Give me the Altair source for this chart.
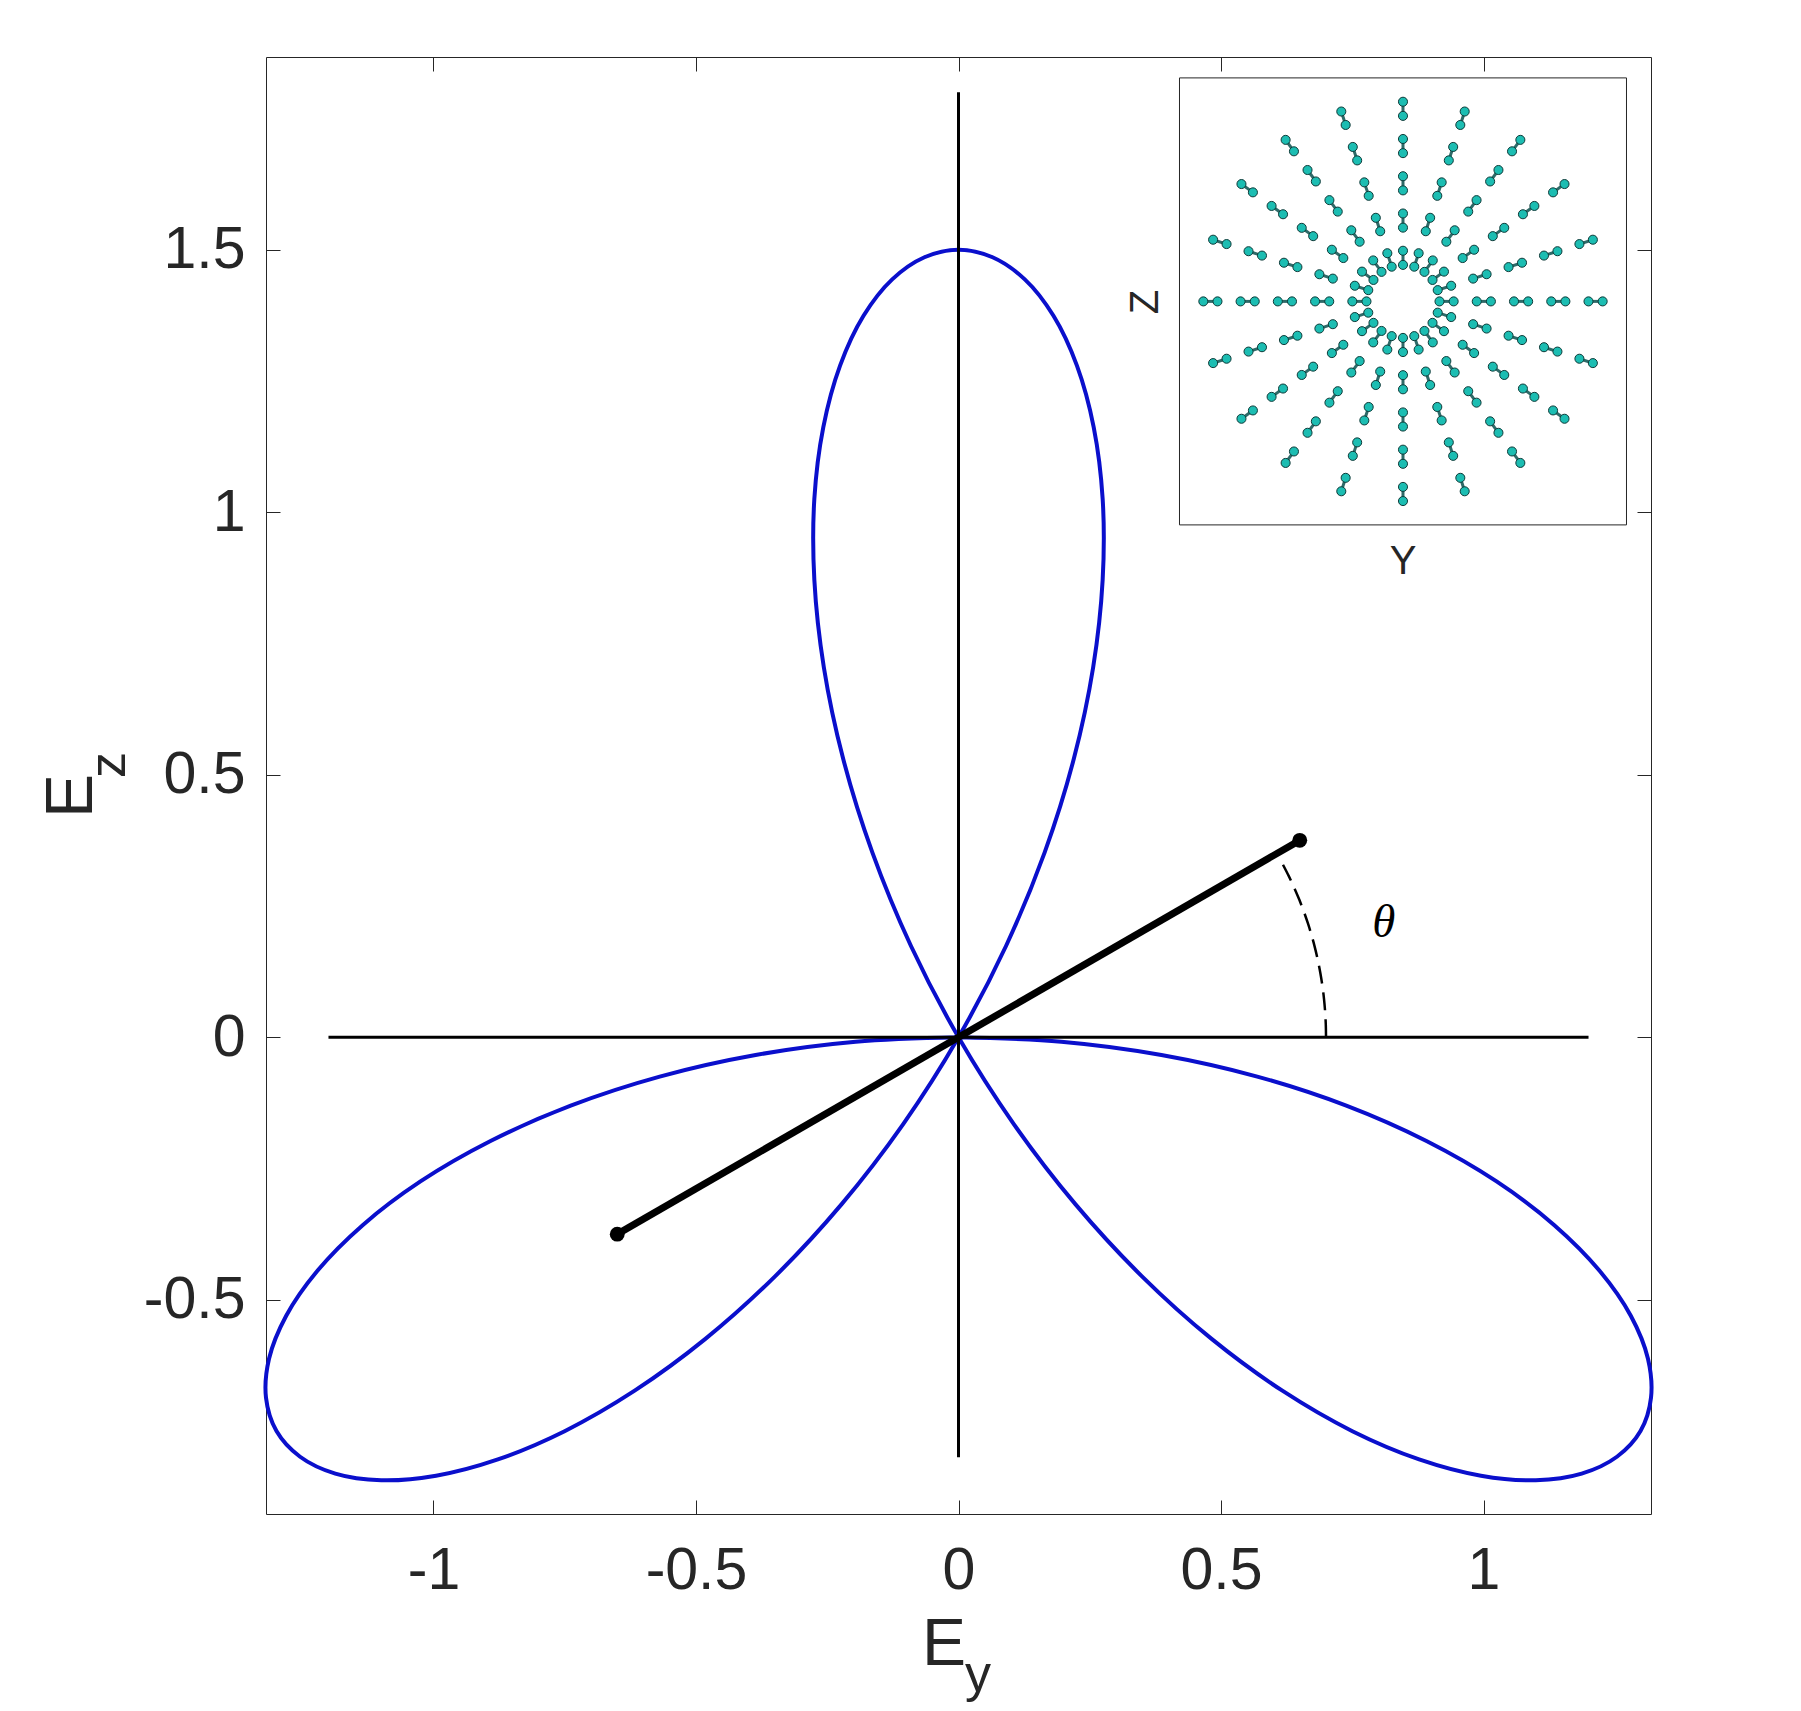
import altair as alt
import numpy as np
import pandas as pd

# ---------------- data ----------------
# three-lobed pattern: polar angle (deg) and signed radius
curve_theta = [0.0, 2.5, 5.0, 7.5, 10.0, 12.5, 15.0, 17.5, 20.0, 22.5, 25.0, 27.5, 30.0,
               32.5, 35.0, 37.5, 40.0, 42.5, 45.0, 47.5, 50.0, 52.5, 55.0, 57.5, 60.0,
               62.5, 65.0, 67.5, 70.0, 72.5, 75.0, 77.5, 80.0, 82.5, 85.0, 87.5, 90.0,
               92.5, 95.0, 97.5, 100.0, 102.5, 105.0, 107.5, 110.0, 112.5, 115.0, 117.5, 120.0,
               122.5, 125.0, 127.5, 130.0, 132.5, 135.0, 137.5, 140.0, 142.5, 145.0, 147.5, 150.0,
               152.5, 155.0, 157.5, 160.0, 162.5, 165.0, 167.5, 170.0, 172.5, 175.0, 177.5, 180.0]
curve_r = [0.0, -0.196, -0.388, -0.574, -0.75, -0.913, -1.061, -1.19, -1.299, -1.386, -1.449, -1.487, -1.5,
           -1.487, -1.449, -1.386, -1.299, -1.19, -1.061, -0.913, -0.75, -0.574, -0.388, -0.196, 0.0,
           0.196, 0.388, 0.574, 0.75, 0.913, 1.061, 1.19, 1.299, 1.386, 1.449, 1.487, 1.5,
           1.487, 1.449, 1.386, 1.299, 1.19, 1.061, 0.913, 0.75, 0.574, 0.388, 0.196, 0.0,
           -0.196, -0.388, -0.574, -0.75, -0.913, -1.061, -1.19, -1.299, -1.386, -1.449, -1.487, -1.5,
           -1.487, -1.449, -1.386, -1.299, -1.19, -1.061, -0.913, -0.75, -0.574, -0.388, -0.196, 0.0]

# reference axes lines
axis_line_x1 = [0.0, -1.2]
axis_line_x2 = [0.0, 1.2]
axis_line_y1 = [-0.8, 0.0]
axis_line_y2 = [1.8, 0.0]

# field direction segment
seg_x = [-0.65, 0.65]
seg_y = [-0.375, 0.375]

# dashed angle arc
arc_theta = [0, 2, 4, 6, 8, 10, 12, 14, 16, 18, 20, 22, 24, 26, 28]
arc_radius = 0.7

theta_label_x = [0.81]
theta_label_y = [0.217]

x_ticks = [-1, -0.5, 0, 0.5, 1]
y_ticks = [-0.5, 0, 0.5, 1, 1.5]

# inset: dumbbells along radial rays
ray_deg = [0, 18, 36, 54, 72, 90, 108, 126, 144, 162, 180, 198, 216, 234, 252, 270, 288, 306, 324, 342]
ring_center = [1.17, 2.17, 3.17, 4.17, 5.17]
dumbbell_half = 0.19

# ---------------- tables ----------------
ct = np.radians(curve_theta)
cr = np.array(curve_r)
curve_df = pd.DataFrame({"x": cr * np.cos(ct), "y": cr * np.sin(ct), "i": np.arange(len(ct))})

lines_df = pd.DataFrame({"x": axis_line_x1, "x2": axis_line_x2, "y": axis_line_y1, "y2": axis_line_y2})
seg_df = pd.DataFrame({"x": seg_x, "y": seg_y, "i": [0, 1]})
at = np.radians(arc_theta)
arc_df = pd.DataFrame({"x": arc_radius * np.cos(at), "y": arc_radius * np.sin(at), "i": np.arange(len(at))})
theta_df = pd.DataFrame({"x": theta_label_x, "y": theta_label_y, "t": ["θ"]})

pts, bars = [], []
for a in ray_deg:
    ca, sa = np.cos(np.radians(a)), np.sin(np.radians(a))
    for c in ring_center:
        r1, r2 = c - dumbbell_half, c + dumbbell_half
        pts.append({"u": r1 * ca, "v": r1 * sa})
        pts.append({"u": r2 * ca, "v": r2 * sa})
        bars.append({"u": r1 * ca, "v": r1 * sa, "u2": r2 * ca, "v2": r2 * sa})
pts_df = pd.DataFrame(pts)
bars_df = pd.DataFrame(bars)

# ---------------- styling ----------------
W, H = 1385, 1457
FONT = "Liberation Sans"
AX = "#262626"
BLUE = "#0a0fcc"

sx = alt.Scale(domain=[-1.319, 1.319], nice=False, zero=False)
sy = alt.Scale(domain=[-0.908, 1.867], nice=False, zero=False)
minus_fix = "replace(datum.label, '\u2212', '-')"

bottom_axis = alt.Axis(orient="bottom", values=x_ticks, title=None, grid=False, domain=False, format="~g",
                       offset=-14, tickSize=14, tickColor=AX, tickWidth=1,
                       labelFont=FONT, labelFontSize=59, labelColor=AX, labelPadding=27,
                       labelFlush=False, labelOverlap=False, labelExpr=minus_fix)
left_axis = alt.Axis(orient="left", values=y_ticks, title=None, grid=False, domain=False, format="~g",
                     offset=-14, tickSize=14, tickColor=AX, tickWidth=1,
                     labelFont=FONT, labelFontSize=59, labelColor=AX, labelPadding=21,
                     labelFlush=False, labelOverlap=False, labelExpr=minus_fix)
top_axis = alt.Axis(orient="top", values=x_ticks, title=None, grid=False, domain=False, labels=False,
                    offset=-14, tickSize=14, tickColor=AX, tickWidth=1)
right_axis = alt.Axis(orient="right", values=y_ticks, title=None, grid=False, domain=False, labels=False,
                      offset=-14, tickSize=14, tickColor=AX, tickWidth=1)

curve = alt.Chart(curve_df).mark_line(color=BLUE, strokeWidth=4, interpolate="catmull-rom").encode(
    x=alt.X("x:Q", scale=sx, axis=bottom_axis),
    y=alt.Y("y:Q", scale=sy, axis=left_axis),
    order=alt.Order("i:Q"),
)

lines = alt.Chart(lines_df).mark_rule(color="black", strokeWidth=3).encode(
    x=alt.X("x:Q", scale=sx, axis=top_axis), x2="x2:Q",
    y=alt.Y("y:Q", scale=sy, axis=right_axis), y2="y2:Q",
)

seg = alt.Chart(seg_df).mark_line(color="black", strokeWidth=7).encode(
    x=alt.X("x:Q", scale=sx, axis=None), y=alt.Y("y:Q", scale=sy, axis=None), order=alt.Order("i:Q"),
)
ends = alt.Chart(seg_df).mark_point(shape="circle", filled=True, color="black", size=220, opacity=1).encode(
    x=alt.X("x:Q", scale=sx, axis=None), y=alt.Y("y:Q", scale=sy, axis=None),
)
arc = alt.Chart(arc_df).mark_line(color="black", strokeWidth=2.5, strokeDash=[18, 9],
                                  interpolate="catmull-rom").encode(
    x=alt.X("x:Q", scale=sx, axis=None), y=alt.Y("y:Q", scale=sy, axis=None), order=alt.Order("i:Q"),
)
theta_txt = alt.Chart(theta_df).mark_text(font="Liberation Serif", fontStyle="italic", fontSize=47,
                                          color="black", baseline="middle", align="center").encode(
    x=alt.X("x:Q", scale=sx, axis=None), y=alt.Y("y:Q", scale=sy, axis=None), text="t:N",
)


def label(txt, px, py, size, angle=0, align="left"):
    kw = dict(font=FONT, fontSize=size, color=AX, align=align, baseline="alphabetic")
    if angle:
        kw["angle"] = angle
    return alt.Chart(pd.DataFrame({"t": [txt]})).mark_text(**kw).encode(
        x=alt.value(px), y=alt.value(py), text="t:N")


ey_E = label("E", 656, 1608, 66)
ey_s = label("y", 699, 1634, 52)
ez_E = label("E", -174, 761, 66, angle=270)
ez_s = label("z", -141, 721, 52, angle=270)
inset_Y = label("Y", 1137, 517, 40, align="center")
inset_Z = label("Z", 892, 245, 40, angle=270, align="center")

main = alt.layer(curve, lines, seg, ends, arc, theta_txt, ey_E, ey_s, ez_E, ez_s, inset_Y, inset_Z).resolve_axis(
    x="independent", y="independent")

# inset in its own units
isx = alt.Scale(domain=[-30.523, 6.658], nice=False, zero=False)
isy = alt.Scale(domain=[-32.553, 6.561], nice=False, zero=False)

frame = alt.Chart(pd.DataFrame({"u": [-6.0], "u2": [6.0], "v": [-6.0], "v2": [6.0]})).mark_rect(
    fill="white", stroke=AX, strokeWidth=1).encode(
    x=alt.X("u:Q", scale=isx, axis=None), x2="u2:Q",
    y=alt.Y("v:Q", scale=isy, axis=None), y2="v2:Q",
)
conn = alt.Chart(bars_df).mark_rule(color="#2f6a68", strokeWidth=3).encode(
    x=alt.X("u:Q", scale=isx, axis=None), x2="u2:Q",
    y=alt.Y("v:Q", scale=isy, axis=None), y2="v2:Q",
)
dots = alt.Chart(pts_df).mark_point(shape="circle", filled=True, fill="#1cbdb2", stroke="#0e3a38",
                                     strokeWidth=1, size=82, opacity=1).encode(
    x=alt.X("u:Q", scale=isx, axis=None), y=alt.Y("v:Q", scale=isy, axis=None),
)
inset = alt.layer(frame, conn, dots)

chart = alt.layer(main, inset).resolve_scale(x="independent", y="independent").properties(
    width=W, height=H,
    autosize=alt.AutoSizeParams(type="none"),
    padding={"left": 258, "top": 49, "right": 130, "bottom": 189},
    background="white",
).configure_view(stroke=AX, strokeWidth=1)

chart.save("out.html", embed_options={"renderer": "svg", "actions": False})
